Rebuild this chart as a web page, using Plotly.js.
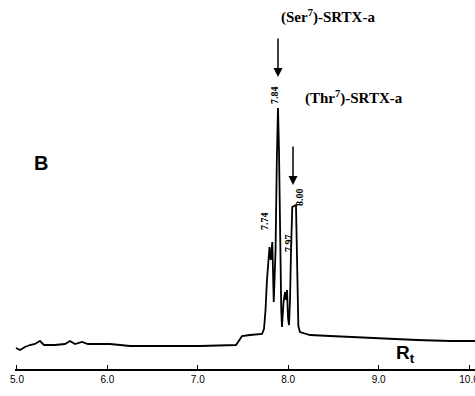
<!DOCTYPE html>
<html>
<head>
<meta charset="utf-8">
<script src="https://cdn.plot.ly/plotly-3.0.1.min.js"></script>
<style>html,body{margin:0;padding:0;background:#fff;}#chart{width:475px;height:396px;}</style>
</head>
<body>
<div id="chart"></div>
<script>
// Retention time (min) and detector signal (arbitrary units)
var retentionTime = [4.989, 5.033, 5.088, 5.144, 5.199, 5.254, 5.299, 5.420, 5.531, 5.586, 5.642, 5.719, 5.785, 6.029, 6.250, 6.692, 7.024, 7.423, 7.456, 7.489, 7.577, 7.710, 7.732, 7.749, 7.765, 7.782, 7.793, 7.806, 7.824, 7.840, 7.860, 7.874, 7.887, 7.898, 7.911, 7.923, 7.931, 7.948, 7.965, 7.976, 7.987, 7.998, 8.009, 8.020, 8.031, 8.045, 8.086, 8.097, 8.112, 8.130, 8.241, 8.462, 8.872, 9.425, 9.790, 10.066];
var signal = [0.21, 0.19, 0.22, 0.24, 0.25, 0.28, 0.24, 0.24, 0.25, 0.28, 0.25, 0.27, 0.25, 0.25, 0.23, 0.23, 0.23, 0.24, 0.28, 0.33, 0.34, 0.35, 0.40, 0.59, 0.89, 1.14, 1.22, 1.09, 1.27, 0.67, 1.19, 2.09, 2.61, 2.19, 1.19, 0.59, 0.42, 0.67, 0.77, 0.69, 0.79, 0.51, 0.44, 0.69, 1.19, 1.62, 1.64, 1.09, 0.43, 0.37, 0.34, 0.33, 0.31, 0.29, 0.28, 0.28];
var tickValues = [5, 6, 7, 8, 9, 10];
var tickLabels = ["5.0", "6.0", "7.0", "8.0", "9.0", "10.0"];
var peakLabels = ["7.74", "7.84", "7.97", "8.00"];
var peakLabelX = [7.732, 7.843, 7.998, 8.119];
var peakLabelY = [1.48, 2.74, 1.26, 1.72];
var compoundNames = ["(Ser<sup>7</sup>)-SRTX-a", "(Thr<sup>7</sup>)-SRTX-a"];
var compoundX = [8.44, 8.728];
var compoundY = [3.53, 2.72];
var arrowX = [7.887, 8.053];
var arrowTipY = [2.92, 1.84];
var arrowTailY = [3.32, 2.24];

var serif = "Liberation Serif, Times New Roman, serif";
var sans = "Liberation Sans, Arial, sans-serif";

var annotations = [];
for (var i = 0; i < peakLabels.length; i++) {
  annotations.push({x: peakLabelX[i], y: peakLabelY[i], xref: 'x', yref: 'y', text: '<b>' + peakLabels[i] + '</b>',
    showarrow: false, textangle: -90, font: {family: serif, size: 10, color: '#000'}});
}
for (var j = 0; j < compoundNames.length; j++) {
  annotations.push({x: compoundX[j], y: compoundY[j], xref: 'x', yref: 'y', text: '<b>' + compoundNames[j] + '</b>',
    showarrow: false, font: {family: serif, size: 15, color: '#000'}});
  annotations.push({x: arrowX[j], y: arrowTipY[j], ax: arrowX[j], ay: arrowTailY[j], axref: 'x', ayref: 'y',
    xref: 'x', yref: 'y', text: '', showarrow: true, arrowhead: 2, arrowsize: 1.2, arrowwidth: 1.5, arrowcolor: '#000'});
}
annotations.push({x: 5.265, y: 2.06, xref: 'x', yref: 'y', text: '<b>B</b>', showarrow: false,
  font: {family: sans, size: 20, color: '#000'}});
annotations.push({x: 9.292, y: 0.15, xref: 'x', yref: 'y', text: '<b>R<sub>t</sub></b>', showarrow: false,
  font: {family: sans, size: 19, color: '#000'}});
annotations.push({x: 7.223, y: -0.16, xref: 'x', yref: 'y', text: '<b>min.</b>', showarrow: false,
  font: {family: sans, size: 9, color: '#000'}});

var trace = {x: retentionTime, y: signal, type: 'scatter', mode: 'lines',
  line: {color: '#000', width: 1.8}, hoverinfo: 'skip'};

var layout = {
  width: 475, height: 396,
  margin: {l: 15, r: 0, t: 0, b: 27},
  paper_bgcolor: '#fff', plot_bgcolor: '#fff',
  showlegend: false,
  xaxis: {range: [4.978, 10.066], tickvals: tickValues, ticktext: tickLabels,
    showgrid: false, zeroline: false, showline: true, linecolor: '#000', linewidth: 2,
    ticks: 'inside', ticklen: 4, tickcolor: '#000', tickwidth: 1, automargin: false,
    ticklabeloverflow: 'allow',
    tickfont: {family: sans, size: 10, color: '#000'}},
  yaxis: {range: [0, 3.69], visible: false, showgrid: false, zeroline: false},
  annotations: annotations
};

Plotly.newPlot('chart', [trace], layout, {displayModeBar: false, staticPlot: true});
</script>
</body>
</html>
